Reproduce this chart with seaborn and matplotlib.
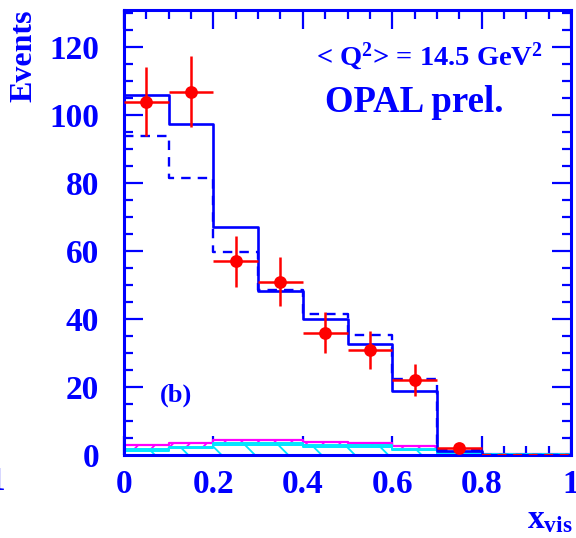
import numpy as np
import pandas as pd
import matplotlib
matplotlib.use("Agg")
import matplotlib.pyplot as plt
from matplotlib.ticker import MultipleLocator
import seaborn as sns

# Binning in x_vis
bin_edges = [0.0, 0.1, 0.2, 0.3, 0.4, 0.5, 0.6, 0.7, 0.8, 0.9, 1.0]
bin_centers = [0.05, 0.15, 0.25, 0.35, 0.45, 0.55, 0.65, 0.75, 0.85, 0.95]

# Measured events (OPAL preliminary)
data_x = [0.05, 0.15, 0.25, 0.35, 0.45, 0.55, 0.65, 0.75]
data_events = [104, 107, 57, 51, 36, 31, 22, 2]

# Monte Carlo predictions (signal + background)
mc_solid = [106.0, 97.3, 67.0, 48.3, 40.0, 32.6, 18.8, 1.3, 0.1, 0.0]
mc_dashed = [94.0, 81.4, 59.7, 48.5, 41.4, 35.3, 22.3, 1.5, 0.1, 0.0]

# Background contributions
bkg_total = [2.9, 3.6, 4.4, 4.5, 3.9, 3.6, 2.6, 0.9, 0.3, 0.3]
bkg_upper = [1.9, 2.4, 3.4, 3.4, 3.0, 2.9, 1.7, 0.6, 0.3, 0.3]
bkg_lower = [1.3, 2.0, 2.9, 2.9, 2.5, 2.5, 1.4, 0.4, 0.2, 0.2]

# Empty tail
tail_edges = [0.8, 0.9, 1.0]
tail_centers = [0.85, 0.95]
tail_values = [0.0, 0.0]

BLUE = "#0000ff"
RED = "#ff0000"
MAGENTA = "#ff00ff"
CYAN = "#00e5ff"

sns.set_style("ticks")
plt.rcParams["font.family"] = ["Liberation Serif", "DejaVu Serif"]
plt.rcParams["font.weight"] = "bold"
plt.rcParams["mathtext.fontset"] = "custom"
plt.rcParams["mathtext.rm"] = "Liberation Serif:bold"
plt.rcParams["mathtext.it"] = "Liberation Serif:bold"
plt.rcParams["mathtext.bf"] = "Liberation Serif:bold"
plt.rcParams["hatch.linewidth"] = 1.3

fig = plt.figure(figsize=(5.76, 5.38), dpi=100)
ax = fig.add_axes([124 / 576, 1 - 455 / 538, 447 / 576, 445 / 538])


def step_hist(values, centers=bin_centers, edges=bin_edges, **kw):
    sns.histplot(x=centers, weights=values, bins=edges, element="step",
                 ax=ax, legend=False, **kw)


# Background bands (hatched)
step_hist(bkg_total, fill=True, facecolor="white", edgecolor=MAGENTA,
          hatch="//", alpha=1, linewidth=1.6, zorder=1)
step_hist(bkg_upper, fill=True, facecolor="white", edgecolor=CYAN,
          hatch="\\", alpha=1, linewidth=1.4, zorder=1.1)
step_hist(bkg_lower, fill=False, color=CYAN, linewidth=1.4, zorder=1.2)

# MC predictions
step_hist(mc_dashed, fill=False, color=BLUE, linestyle=(0, (4, 3)),
          linewidth=1.7, zorder=2)
step_hist(mc_solid, fill=False, color=BLUE, linewidth=1.9, zorder=2.1)
step_hist(tail_values, centers=tail_centers, edges=tail_edges, fill=False,
          color=RED, linestyle=(0, (4, 3)), linewidth=1.6, zorder=3)

# Data points with statistical errors
errs = np.sqrt(np.array(data_events, dtype=float))
ax.errorbar(data_x, data_events, xerr=0.05, yerr=errs, fmt="none",
            ecolor=RED, elinewidth=1.8, capsize=0, zorder=4)
sns.scatterplot(x=data_x, y=data_events, color=RED, s=85, edgecolor=RED,
                linewidth=0, ax=ax, zorder=5)

ax.set_xlim(0, 1)
ax.set_ylim(0, 131)
ax.xaxis.set_major_locator(MultipleLocator(0.2))
ax.xaxis.set_minor_locator(MultipleLocator(0.05))
ax.yaxis.set_major_locator(MultipleLocator(20))
ax.yaxis.set_minor_locator(MultipleLocator(5))
ax.xaxis.set_major_formatter(lambda v, p: "0" if abs(v) < 1e-9 else ("1" if abs(v - 1) < 1e-9 else f"{v:.1f}"))

for s in ax.spines.values():
    s.set_color(BLUE)
    s.set_linewidth(2.2)
    s.set_visible(True)

ax.tick_params(which="both", direction="in", top=True, right=True,
               color=BLUE, labelcolor=BLUE, width=1.6)
ax.tick_params(which="major", length=13.5, labelsize=24)
ax.tick_params(which="minor", length=6.5)
ax.tick_params(axis="x", which="major", pad=10)
ax.tick_params(axis="y", which="major", pad=18)

ax.set_ylabel("Events", color=BLUE, fontsize=23, fontweight="bold", loc="top")
ax.yaxis.set_label_coords((24 - 124) / 447, 1.0)
ax.yaxis.label.set_va("center")

ax.set_xlabel(r"x$_{\rm vis}$", color=BLUE, fontsize=24, fontweight="bold", loc="right")
ax.xaxis.set_label_coords((573 - 124) / 447, (455 - 504) / 445)
ax.xaxis.label.set_va("top")

ax.text(0.937, 0.876, r"< Q$^{2}$> = 14.5 GeV$^{2}$", transform=ax.transAxes,
        ha="right", va="baseline", fontsize=20.5, color=BLUE, fontweight="bold")
ax.text(0.4497, 0.771, "OPAL prel.", transform=ax.transAxes,
        ha="left", va="baseline", fontsize=26.5, color=BLUE, fontweight="bold")
ax.text(0.0805, 0.12, "(b)", transform=ax.transAxes,
        ha="left", va="baseline", fontsize=19, color=BLUE, fontweight="bold")

fig.text(-3 / 576, 1 - 482 / 538, "1", ha="center", va="center",
         fontsize=24, color=BLUE, fontweight="bold")

fig.savefig("out.png", dpi=100)
